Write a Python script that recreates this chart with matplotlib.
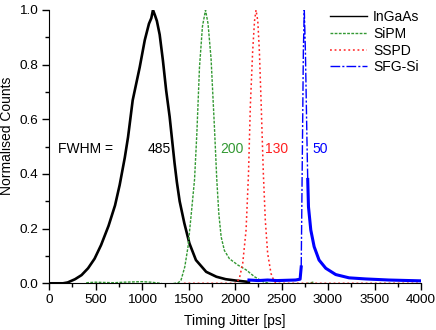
import numpy as np
import matplotlib
matplotlib.use("Agg")
import matplotlib.pyplot as plt
from matplotlib.ticker import MultipleLocator, FormatStrFormatter

plt.rcParams["font.family"] = ["Liberation Sans", "DejaVu Sans"]

####################################
# Data
ingaas_x = [0, 150, 200, 280, 350, 420, 490, 560, 640, 710, 760, 815, 850, 900,
            975, 1030, 1075, 1100, 1118, 1140, 1160, 1190, 1225, 1260, 1297, 1325,
            1350, 1375, 1405, 1455, 1510, 1580, 1690, 1800, 1900, 2010, 2120, 2150]
ingaas_y = [0, 0, 0.003, 0.015, 0.03, 0.055, 0.09, 0.14, 0.21, 0.285, 0.36, 0.46,
            0.535, 0.67, 0.79, 0.89, 0.95, 0.97, 1.0, 0.98, 0.96, 0.91, 0.815, 0.705,
            0.61, 0.52, 0.44, 0.37, 0.30, 0.22, 0.146, 0.085, 0.042, 0.024, 0.015,
            0.01, 0.006, 0.005]

sipm_x = [400, 500, 600, 700, 800, 900, 1000, 1100, 1200, 1250, 1300, 1390, 1420,
          1460, 1495, 1530, 1565, 1590, 1618, 1650, 1683, 1710, 1743, 1779, 1804,
          1826, 1851, 1886, 1940, 2030, 2120, 2210, 2300, 2400, 2480, 2620, 2730, 2850]
sipm_y = [0.002, 0.004, 0.003, 0.002, 0.004, 0.005, 0.006, 0.004, 0.0, -0.004,
          -0.003, 0.002, 0.012, 0.06, 0.134, 0.255, 0.38, 0.55, 0.79, 0.94, 1.0,
          0.95, 0.82, 0.57, 0.38, 0.255, 0.17, 0.12, 0.09, 0.067, 0.049, 0.024,
          0.006, -0.003, -0.006, -0.01, -0.005, 0.005]

sspd_x = [1450, 1700, 2000, 2012, 2047, 2083, 2119, 2145, 2165, 2190, 2210, 2226,
          2245, 2262, 2280, 2305, 2326, 2351, 2387, 2422, 2460, 2700, 3000, 3500, 4000]
sspd_y = [0, 0, 0, 0, 0.018, 0.073, 0.195, 0.40, 0.65, 0.85, 0.96, 1.0, 0.96, 0.85,
          0.67, 0.40, 0.23, 0.11, 0.036, 0.006, 0, 0, 0, 0, 0]

sfg_x = [2150, 2250, 2350, 2450, 2550, 2650, 2700, 2712, 2725, 2735, 2745, 2757,
         2775, 2782, 2790, 2815, 2851, 2904, 2976, 3083, 3226, 3404, 3655, 3994]
sfg_y = [0.012, 0.01, 0.012, 0.01, 0.011, 0.012, 0.015, 0.06, 0.5, 0.85, 1.0, 0.85,
         0.5, 0.38, 0.28, 0.195, 0.134, 0.085, 0.055, 0.032, 0.02, 0.016, 0.012, 0.009]

labels = ["InGaAs", "SiPM", "SSPD", "SFG-Si"]
fwhm = ["485", "200", "130", "50"]
fwhm_x = [1064, 1839, 2323, 2835]

c_green = "#339933"
c_red = "#ff2020"
c_blue = "#0000ff"

####################################
# Plot
fig = plt.figure(figsize=(4.36, 3.30), dpi=100)
ax = fig.add_axes([49 / 436, (330 - 283.3) / 330, 372 / 436, 273.3 / 330])

ax.plot(ingaas_x, ingaas_y, color="black", lw=1.9, label=labels[0])
ax.plot(sipm_x, sipm_y, color=c_green, lw=1.0, ls=(0, (2, 1)), label=labels[1])
ax.plot(sspd_x, sspd_y, color=c_red, lw=1.1, ls=(0, (1.2, 1.8)), label=labels[2])
ax.plot(sfg_x, sfg_y, color=c_blue, lw=1.0, ls=(0, (7, 1.5, 1.5, 1.5)), label=labels[3])
# noisy baseline/tail of the SFG-Si trace looks like a thick band
sfg_arr = np.array(sfg_y)
ax.plot(sfg_x, np.where(sfg_arr < 0.4, sfg_arr, np.nan), color=c_blue, lw=2.2)

ax.text(97, 0.49, "FWHM =", fontsize=10, va="center", ha="left")
for lab, xx, col in zip(fwhm, fwhm_x, ["black", c_green, c_red, c_blue]):
    ax.text(xx, 0.49, lab, fontsize=10, va="center", ha="left", color=col)

ax.set_xlim(0, 4000)
ax.set_ylim(0, 1.0)
ax.xaxis.set_major_locator(MultipleLocator(500))
ax.xaxis.set_minor_locator(MultipleLocator(250))
ax.yaxis.set_major_locator(MultipleLocator(0.2))
ax.yaxis.set_minor_locator(MultipleLocator(0.1))
ax.yaxis.set_major_formatter(FormatStrFormatter("%.1f"))
ax.tick_params(which="major", direction="out", length=5, width=1, labelsize=9.7, pad=3)
ax.tick_params(which="minor", direction="out", length=3, width=1)
for s in ["top", "right"]:
    ax.spines[s].set_visible(False)
ax.set_xlabel("Timing Jitter [ps]", fontsize=10)
ax.set_ylabel("Normalised Counts", fontsize=10)
ax.xaxis.set_label_coords(0.5, -0.113)
ax.yaxis.set_label_coords(-0.094, 0.54)

leg = ax.legend(loc="upper left", bbox_to_anchor=(0.755, 1.0), frameon=False,
                fontsize=10, borderpad=0, borderaxespad=0, handlelength=2.65,
                handletextpad=0.45, labelspacing=0.2)
leg.get_lines()[0].set_linewidth(1.0)

plt.savefig("out.png", dpi=100)
